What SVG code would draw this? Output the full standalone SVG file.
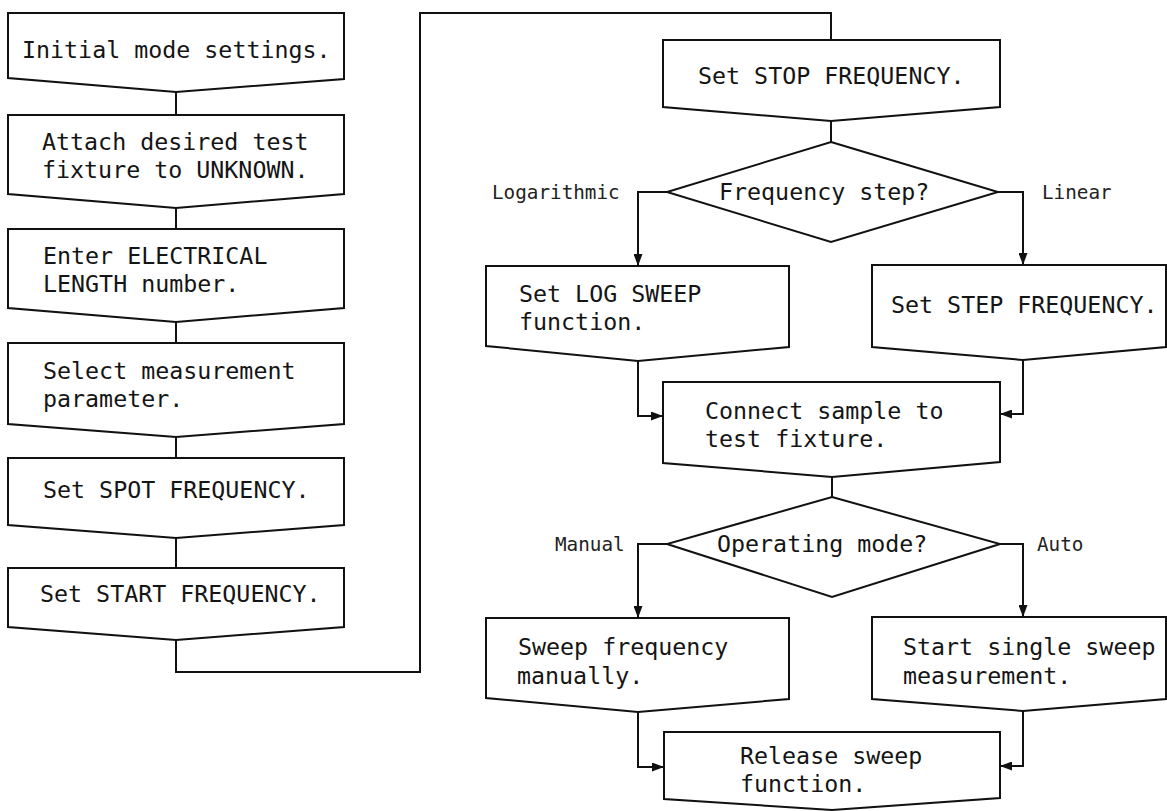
<svg xmlns="http://www.w3.org/2000/svg" width="1167" height="811" viewBox="0 0 1167 811">
<style>
.box{fill:#fff;stroke:#111;stroke-width:2;stroke-linejoin:miter}
.t{font-family:"DejaVu Sans Mono","Liberation Mono",monospace;font-size:23.3px;fill:#151515}
.lb{font-family:"DejaVu Sans Mono","Liberation Mono",monospace;font-size:19.3px;fill:#222}
.c{fill:none;stroke:#111;stroke-width:2}
.ca{fill:none;stroke:#111;stroke-width:2;marker-end:url(#ah)}
</style>
<defs>
<marker id="ah" markerUnits="userSpaceOnUse" markerWidth="12" markerHeight="9" refX="12" refY="4.5" orient="auto">
<path d="M0,0 L12,4.5 L0,9 z" fill="#111"/>
</marker>
</defs>
<rect width="1167" height="811" fill="#fff"/>
<g id="connectors">
<polyline class="c" points="176,92 176,115"/>
<polyline class="c" points="176,208 176,229"/>
<polyline class="c" points="176,322 176,343"/>
<polyline class="c" points="176,437 176,458"/>
<polyline class="c" points="176,538 176,568"/>
<polyline class="c" points="176,640 176,672 420,672 420,13 831,13 831,40"/>
<polyline class="c" points="831,121 831,142"/>
<polyline class="ca" points="667,192 638,192 638,266"/>
<polyline class="ca" points="998,192 1023,192 1023,265"/>
<polyline class="ca" points="638,361 638,416 663,416"/>
<polyline class="ca" points="1023,360 1023,414 1000,414"/>
<polyline class="c" points="832,477 832,497"/>
<polyline class="ca" points="667,544 638,544 638,618"/>
<polyline class="ca" points="1000,544 1023,544 1023,617"/>
<polyline class="ca" points="638,712 638,767 664,767"/>
<polyline class="ca" points="1023,711 1023,766 1000,766"/>
</g>
<g id="n1"><path class="box" d="M8,13 H344 V79 L176,92 L8,78 Z"/><text class="t" x="22" y="58">Initial mode settings.</text></g>
<g id="n2"><path class="box" d="M8,115 H344 V194 L176,208 L8,194 Z"/><text class="t" x="42" y="150">Attach desired test</text><text class="t" x="42" y="178">fixture to UNKNOWN.</text></g>
<g id="n3"><path class="box" d="M8,229 H344 V308 L176,322 L8,308 Z"/><text class="t" x="43" y="264">Enter ELECTRICAL</text><text class="t" x="43" y="292">LENGTH number.</text></g>
<g id="n4"><path class="box" d="M8,343 H344 V424 L176,437 L8,424 Z"/><text class="t" x="43" y="379">Select measurement</text><text class="t" x="43" y="407">parameter.</text></g>
<g id="n5"><path class="box" d="M8,458 H344 V525 L176,538 L8,525 Z"/><text class="t" x="43" y="498">Set SPOT FREQUENCY.</text></g>
<g id="n6"><path class="box" d="M8,568 H344 V627 L176,640 L8,627 Z"/><text class="t" x="40" y="602">Set START FREQUENCY.</text></g>
<g id="n7"><path class="box" d="M663,40 H1000 V107 L831,121 L663,107 Z"/><text class="t" x="698" y="84">Set STOP FREQUENCY.</text></g>
<g id="d1"><path class="box" d="M831,142 L998,192 L831,242 L667,192 Z"/><text class="t" x="719" y="200">Frequency step?</text><text class="lb" x="492" y="199">Logarithmic</text><text class="lb" x="1042" y="199">Linear</text></g>
<g id="n8"><path class="box" d="M486,266 H789 V347 L638,361 L486,346 Z"/><text class="t" x="519" y="302">Set LOG SWEEP</text><text class="t" x="519" y="330">function.</text></g>
<g id="n9"><path class="box" d="M872,265 H1166 V347 L1023,360 L872,347 Z"/><text class="t" x="891" y="313">Set STEP FREQUENCY.</text></g>
<g id="n10"><path class="box" d="M663,382 H1000 V462 L832,477 L663,463 Z"/><text class="t" x="705" y="419">Connect sample to</text><text class="t" x="705" y="447">test fixture.</text></g>
<g id="d2"><path class="box" d="M832,497 L1000,544 L832,597 L667,544 Z"/><text class="t" x="717" y="552">Operating mode?</text><text class="lb" x="555" y="551">Manual</text><text class="lb" x="1037" y="551">Auto</text></g>
<g id="n11"><path class="box" d="M486,618 H789 V699 L638,712 L486,698 Z"/><text class="t" x="518" y="655">Sweep frequency</text><text class="t" x="517" y="684">manually.</text></g>
<g id="n12"><path class="box" d="M872,617 H1166 V699 L1023,711 L872,699 Z"/><text class="t" x="903" y="655">Start single sweep</text><text class="t" x="903" y="684">measurement.</text></g>
<g id="n13"><path class="box" d="M664,732 H1000 V798 L832,810 L664,799 Z"/><text class="t" x="740" y="764">Release sweep</text><text class="t" x="740" y="792">function.</text></g>
</svg>
